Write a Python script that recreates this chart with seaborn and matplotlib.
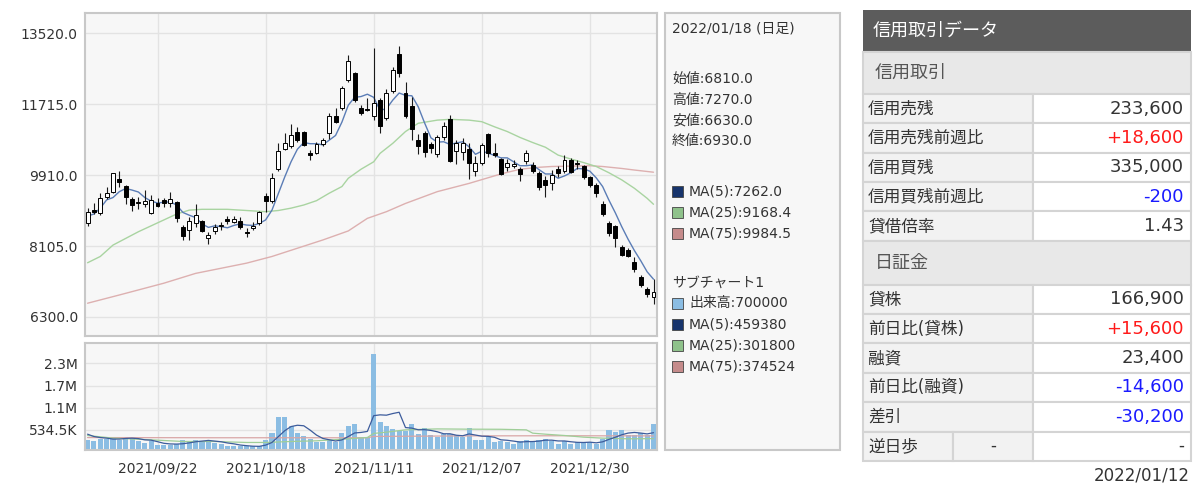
import numpy as np
import pandas as pd
import matplotlib
matplotlib.use("Agg")
import matplotlib.pyplot as plt
from matplotlib.patches import Rectangle
import seaborn as sns

# ---------------- data ----------------
date_ticks = [11, 28, 45, 62, 79]
date_labels = ["2021/09/22", "2021/10/18", "2021/11/11", "2021/12/07", "2021/12/30"]
price_ticks = [6300, 8105, 9910, 11715, 13520]
vol_ticks = [534500, 1122500, 1710500, 2298500]
vol_tick_labels = ["534.5K", "1.1M", "1.7M", "2.3M"]

opens = [8680, 9020, 8940, 9360, 9490, 9810, 9630, 9300, 9200, 9180,
         8940, 9210, 9280, 9210, 9220, 8600, 8510, 8700, 8750, 8320,
         8500, 8620, 8800, 8730, 8750, 8470, 8560, 8680, 9390, 9240,
         10060, 10570, 10650, 11000, 11000, 10470, 10480, 10700, 10990, 11420,
         11610, 12330, 12520, 11630, 11590, 11420, 11820, 11360, 12050, 12990,
         12010, 11680, 10810, 10990, 10690, 10450, 10890, 11350, 10520, 10510,
         10570, 10020, 10210, 10960, 10480, 10310, 10110, 10140, 10060, 10280,
         10170, 9960, 9790, 9720, 10060, 10020, 10300, 10200, 10140, 9850,
         9660, 9180, 8680, 8620, 8090, 8010, 7710, 7330, 7020, 6810]
highs = [9070, 9210, 9450, 9620, 9970, 10020, 9660, 9360, 9360, 9530,
         9410, 9320, 9320, 9470, 9240, 8640, 8850, 9180, 8770, 8470,
         8670, 8720, 8870, 8870, 8840, 8560, 8730, 9000, 9460, 9960,
         10720, 10970, 11200, 11140, 11040, 10550, 10760, 10850, 11500, 11610,
         12180, 12960, 12540, 11700, 11870, 13140, 11870, 12090, 12670, 13200,
         12290, 11890, 10960, 11040, 10760, 10930, 11250, 11440, 10810, 10850,
         10740, 10400, 10720, 10970, 10740, 10340, 10310, 10300, 10110, 10550,
         10250, 10020, 9890, 10040, 10130, 10420, 10340, 10300, 10170, 9890,
         9700, 9240, 8750, 8640, 8130, 8050, 7820, 7370, 7060, 7270]
lows = [8620, 8920, 8900, 9300, 9460, 9620, 9180, 9010, 9040, 9110,
        8910, 9090, 9110, 9110, 8730, 8260, 8260, 8600, 8470, 8160,
        8400, 8510, 8670, 8680, 8530, 8340, 8510, 8640, 8980, 9190,
        10020, 10550, 10590, 10760, 10650, 10300, 10450, 10650, 10820, 11230,
        11570, 12290, 11760, 11440, 11530, 11310, 10970, 11310, 12010, 12420,
        11360, 10810, 10450, 10380, 10470, 10360, 10810, 10250, 10190, 10300,
        9800, 9890, 10170, 10380, 10380, 9910, 10020, 10080, 9770, 10190,
        9960, 9530, 9360, 9520, 9870, 9970, 9970, 10060, 9820, 9620,
        9360, 8870, 8360, 8070, 7840, 7820, 7450, 7070, 6820, 6630]
closes = [8980, 8970, 9340, 9460, 9960, 9740, 9360, 9140, 9220, 9250,
          9280, 9130, 9210, 9300, 8810, 8370, 8750, 8900, 8500, 8390,
          8580, 8640, 8750, 8790, 8580, 8430, 8620, 8960, 9240, 9830,
          10530, 10740, 10930, 10810, 10680, 10410, 10700, 10810, 11420, 11270,
          12120, 12820, 11820, 11500, 11580, 11740, 11160, 12010, 12590, 12520,
          11420, 11090, 10650, 10510, 10610, 10870, 11160, 10280, 10740, 10740,
          10230, 10230, 10680, 10470, 10430, 9940, 10230, 10190, 9940, 10470,
          10020, 9620, 9660, 9910, 9960, 10300, 10000, 10220, 9860, 9660,
          9460, 8920, 8430, 8300, 7880, 7850, 7510, 7120, 6890, 6930]
ma5 = [8870, 8920, 9070, 9280, 9340, 9490, 9570, 9530, 9480, 9340,
       9250, 9200, 9220, 9230, 9150, 8960, 8890, 8830, 8670, 8580,
       8620, 8600, 8570, 8630, 8670, 8640, 8630, 8680, 8770, 9020,
       9440, 9860, 10250, 10570, 10740, 10710, 10710, 10680, 10800, 10920,
       11260, 11690, 11890, 11910, 11970, 11890, 11560, 11600, 11820, 12000,
       11940, 11930, 11650, 11240, 10860, 10750, 10760, 10690, 10730, 10760,
       10630, 10440, 10520, 10470, 10410, 10350, 10350, 10250, 10150, 10150,
       10170, 10050, 9940, 9940, 9830, 9890, 9970, 10080, 10070, 10010,
       9840, 9620, 9270, 8950, 8600, 8280, 7990, 7730, 7450, 7262]
ma25_x = [0, 2, 4, 6, 8, 10, 12, 14, 16, 18, 22, 26, 28, 30, 32, 34, 36, 38, 40, 41,
          43, 45, 46, 48, 50, 52, 55, 57, 60, 62, 64, 66, 68, 70, 72, 74, 76, 78, 80,
          82, 84, 86, 88, 89]
ma25 = [7680, 7840, 8130, 8300, 8470, 8620, 8770, 8920, 9020, 9040, 9040, 9000, 8980,
        9010, 9070, 9150, 9260, 9450, 9620, 9830, 10060, 10250, 10465, 10720, 11020,
        11230, 11310, 11330, 11310, 11270, 11140, 11020, 10870, 10740, 10620, 10420,
        10320, 10230, 10130, 9970, 9790, 9575, 9320, 9168.4]
ma75_x = [0, 5, 12, 17, 21, 25, 29, 33, 37, 41, 44, 47, 50, 55, 60, 65, 68, 71, 73,
          76, 79, 81, 84, 86, 89]
ma75 = [6650, 6860, 7160, 7410, 7540, 7670, 7840, 8050, 8260, 8490, 8810, 8980, 9190,
        9490, 9700, 9940, 10060, 10110, 10130, 10140, 10150, 10130, 10080, 10040, 9984.5]

volume = [270000, 252000, 297000, 288000, 341000, 270000, 341000, 332000, 226000, 182000,
          226000, 138000, 120000, 138000, 164000, 270000, 252000, 270000, 226000, 252000,
          182000, 164000, 111000, 111000, 94000, 94000, 94000, 94000, 270000, 447000,
          871000, 871000, 650000, 447000, 376000, 297000, 208000, 208000, 270000, 208000,
          447000, 650000, 685000, 341000, 341000, 2540000, 756000, 641000, 562000, 509000,
          509000, 685000, 420000, 579000, 403000, 332000, 420000, 420000, 385000, 332000,
          579000, 270000, 270000, 358000, 208000, 244000, 208000, 164000, 226000, 270000,
          252000, 270000, 288000, 226000, 164000, 252000, 164000, 208000, 208000, 208000,
          164000, 297000, 535000, 491000, 535000, 385000, 385000, 447000, 385000, 700000]
vol_ma5 = [420000, 358000, 330000, 315000, 290000, 290000, 307000, 314000, 302000, 270000,
           261000, 221000, 178000, 161000, 157000, 166000, 189000, 219000, 236000, 254000,
           236000, 219000, 187000, 164000, 132000, 115000, 101000, 97000, 129000, 200000,
           355000, 511000, 622000, 657000, 643000, 528000, 396000, 307000, 272000, 238000,
           268000, 357000, 452000, 466000, 493000, 911000, 933000, 924000, 968000, 1002000,
           595000, 581000, 537000, 540000, 519000, 484000, 431000, 431000, 392000, 378000,
           427000, 397000, 367000, 362000, 337000, 270000, 258000, 236000, 210000, 222000,
           224000, 236000, 261000, 261000, 240000, 240000, 219000, 203000, 199000, 208000,
           190000, 217000, 282000, 339000, 404000, 449000, 466000, 449000, 427000, 459380]
vol_ma25_x = [0, 4, 10, 15, 20, 25, 28, 32, 36, 41, 44, 45, 47, 50, 55, 60, 65, 69, 70,
              72, 75, 78, 81, 85, 89]
vol_ma25 = [385000, 315000, 270000, 226000, 226000, 200000, 200000, 226000, 244000,
            297000, 332000, 440000, 473000, 535000, 560000, 553000, 550000, 535000,
            447000, 420000, 385000, 341000, 315000, 297000, 301800]
vol_ma75_x = [0, 20, 44, 45, 60, 75, 89]
vol_ma75 = [330000, 325000, 325000, 360000, 375000, 378000, 374524]

panel_head = "2022/01/18 (日足)"
ohlc_lines = ["始値:6810.0", "高値:7270.0", "安値:6630.0", "終値:6930.0"]
price_legend = ["MA(5):7262.0", "MA(25):9168.4", "MA(75):9984.5"]
sub_title = "サブチャート1"
sub_legend = ["出来高:700000", "MA(5):459380", "MA(25):301800", "MA(75):374524"]

table_title = "信用取引データ"
sec1 = "信用取引"
sec1_labels = ["信用売残", "信用売残前週比", "信用買残", "信用買残前週比", "貸借倍率"]
sec1_values = ["233,600", "+18,600", "335,000", "-200", "1.43"]
sec2 = "日証金"
sec2_labels = ["貸株", "前日比(貸株)", "融資", "前日比(融資)", "差引"]
sec2_values = ["166,900", "+15,600", "23,400", "-14,600", "-30,200"]
last_label, last_mid, last_value = "逆日歩", "-", "-"
table_date = "2022/01/12"

# ---------------- styling ----------------
sns.set_style("whitegrid")
plt.rcParams['font.family'] = ['DejaVu Sans', 'Noto Sans CJK JP']

C_MA5, C_MA25, C_MA75 = '#5b7db6', '#a9d4a1', '#ddb0b0'
C_VOL = '#8bbde3'
TXT = '#333333'

W, H = 1200, 496
fig = plt.figure(figsize=(W / 100, H / 100), dpi=100)


def box(x0, y0, x1, y1):
    return [x0 / W, 1 - y1 / H, (x1 - x0) / W, (y1 - y0) / H]


bg = fig.add_axes([0, 0, 1, 1], zorder=0)
bg.set_xlim(0, W)
bg.set_ylim(H, 0)
bg.axis('off')

ax = fig.add_axes(box(84.7, 13.3, 657, 336), zorder=1)
axv = fig.add_axes(box(84.7, 343, 657, 450), zorder=1)

df = pd.DataFrame(dict(o=opens, h=highs, l=lows, c=closes, v=volume,
                       ma5=ma5, vma5=vol_ma5))
df['x'] = np.arange(len(df))
up = df.c >= df.o

# price panel
sns.lineplot(x=ma75_x, y=ma75, ax=ax, color=C_MA75, lw=1.0, zorder=2)
sns.lineplot(x=ma25_x, y=ma25, ax=ax, color=C_MA25, lw=1.0, zorder=2)
sns.lineplot(data=df, x='x', y='ma5', ax=ax, color=C_MA5, lw=1.0, zorder=2)
ax.vlines(df.x, df.l, df.h, color='#1a1a1a', lw=0.8, zorder=3)
ax.bar(df.x, (df.c - df.o).abs().clip(lower=18), bottom=df[['o', 'c']].min(axis=1),
       width=0.62, color=np.where(up, 'white', 'black'), edgecolor='black',
       linewidth=0.7, zorder=4)

# volume panel
sns.barplot(data=df, x='x', y='v', ax=axv, native_scale=True, color=C_VOL,
            saturation=1, width=0.8, errorbar=None, edgecolor='none', zorder=2)
sns.lineplot(x=vol_ma75_x, y=vol_ma75, ax=axv, color='#d9a6a6', lw=0.9, zorder=3)
sns.lineplot(x=vol_ma25_x, y=vol_ma25, ax=axv, color='#9fce98', lw=0.9, zorder=3)
sns.lineplot(data=df, x='x', y='vma5', ax=axv, color='#3d5c9c', lw=0.9, zorder=3)

for a in (ax, axv):
    a.set_facecolor('#f7f7f7')
    a.set_xlim(-0.45, 89.55)
    a.set_xticks(date_ticks)
    a.grid(True, color='#e3e3e3', lw=1)
    a.tick_params(length=0, labelsize=10, labelcolor=TXT, pad=5)
    a.set_xlabel('')
    a.set_ylabel('')
    for s in a.spines.values():
        s.set_color('#c8c8c8')
        s.set_linewidth(1.5)

ax.set_ylim(5816, 14029)
ax.set_yticks(price_ticks)
ax.set_yticklabels([f"{v:.1f}" for v in price_ticks])
ax.set_xticklabels([])

axv.set_ylim(0, 2.84e6)
axv.set_yticks(vol_ticks)
axv.set_yticklabels(vol_tick_labels)
axv.set_xticklabels(date_labels)
axv.tick_params(axis='x', pad=8)

# legend panel
bg.add_patch(Rectangle((665, 12.7), 175, 437.3, fc='#f7f7f7', ec='#c8c8c8', lw=1.5))
bg.text(672, 29, panel_head, fontsize=10, color=TXT, va='center')
for k, t in enumerate(ohlc_lines):
    bg.text(672, 79.3 + k * 20.6, t, fontsize=10, color=TXT, va='center')


def swatch(y, color, label):
    bg.add_patch(Rectangle((671.5, y - 5.5), 11, 11, fc=color, ec='#444444', lw=0.6))
    bg.text(689, y, label, fontsize=10, color=TXT, va='center')


sw_cols = ['#17346c', '#8fc28b', '#c58b8b']
for k, t in enumerate(price_legend):
    swatch(191.7 + k * 20.8, sw_cols[k], t)
bg.text(672, 282.7, sub_title, fontsize=10, color=TXT, va='center')
for k, t in enumerate(sub_legend):
    swatch(303.3 + k * 20.9, ([C_VOL] + sw_cols)[k], t)

# credit table
tx0, tx1, tdiv, tmid = 862.7, 1190.7, 1032.7, 953.3
LINE = '#d4d4d4'


def value_color(s):
    if s.startswith('+'):
        return '#ff1a1a'
    if s.startswith('-') and len(s) > 1:
        return '#1a1aff'
    return TXT


bg.add_patch(Rectangle((tx0, 10), tx1 - tx0, 41.7, fc='#5c5c5c', ec='none'))
bg.text(873, 31, table_title, fontsize=13, color='white', va='center')

y = 51.7
row_h = 29.35
for title, labels, values, sec_h in ((sec1, sec1_labels, sec1_values, 42.3),
                                     (sec2, sec2_labels, sec2_values, 44.0)):
    bg.add_patch(Rectangle((tx0, y), tx1 - tx0, sec_h, fc='#e8e8e8', ec=LINE, lw=1.5))
    bg.text(875, y + sec_h / 2, title, fontsize=13, color='#555555', va='center')
    y += sec_h
    for lab, val in zip(labels, values):
        bg.add_patch(Rectangle((tx0, y), tdiv - tx0, row_h, fc='#f2f2f2', ec=LINE, lw=1.5))
        bg.add_patch(Rectangle((tdiv, y), tx1 - tdiv, row_h, fc='white', ec=LINE, lw=1.5))
        bg.text(868, y + row_h / 2, lab, fontsize=12, color=TXT, va='center')
        bg.text(1184, y + row_h / 2, val, fontsize=13, color=value_color(val),
                va='center', ha='right')
        y += row_h

bg.add_patch(Rectangle((tx0, y), tmid - tx0, row_h, fc='#f2f2f2', ec=LINE, lw=1.5))
bg.add_patch(Rectangle((tmid, y), tdiv - tmid, row_h, fc='#f2f2f2', ec=LINE, lw=1.5))
bg.add_patch(Rectangle((tdiv, y), tx1 - tdiv, row_h, fc='white', ec=LINE, lw=1.5))
bg.text(868, y + row_h / 2, last_label, fontsize=12, color=TXT, va='center')
bg.text((tmid + tdiv) / 2, y + row_h / 2, last_mid, fontsize=12, color=TXT,
        va='center', ha='center')
bg.text(1184, y + row_h / 2, last_value, fontsize=12, color=TXT, va='center', ha='right')
bg.text(1190, 476, table_date, fontsize=12, color=TXT, va='center', ha='right')

fig.savefig("out.png", dpi=100)
